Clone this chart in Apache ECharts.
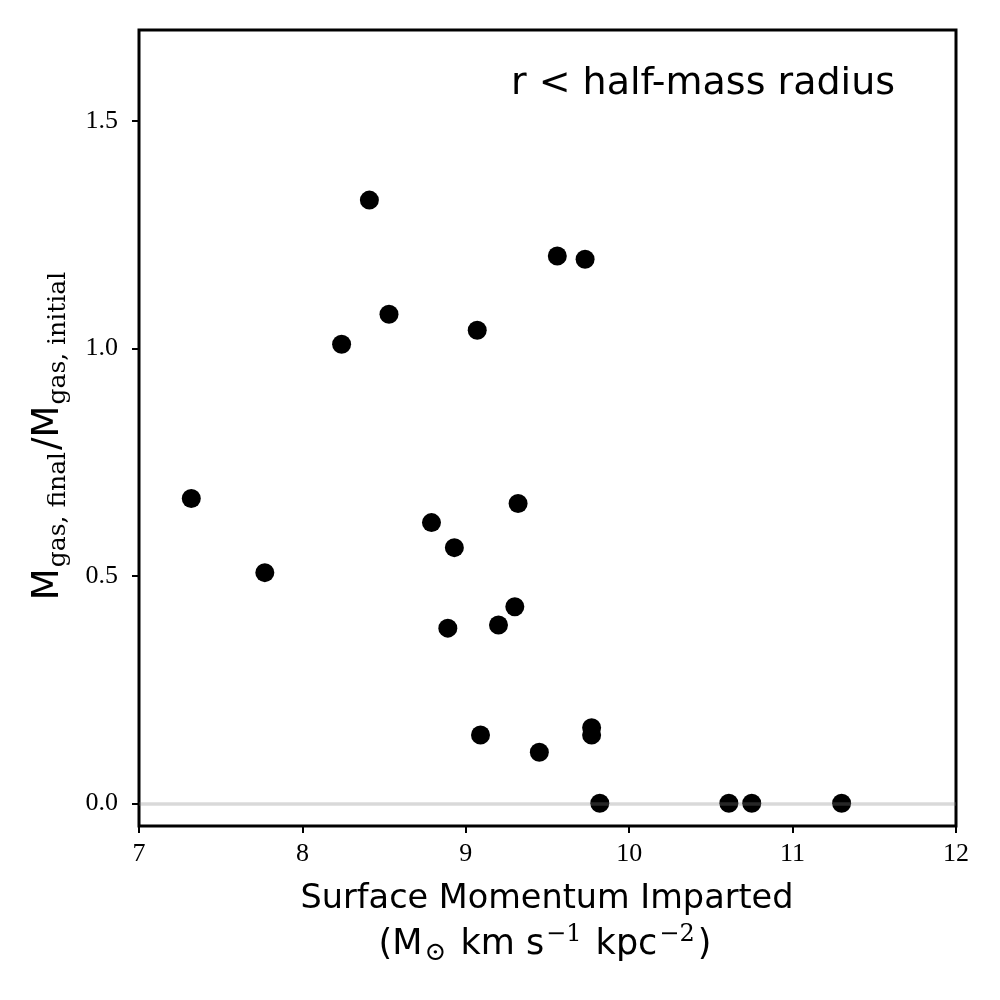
<!DOCTYPE html>
<html>
<head>
<meta charset="utf-8">
<script src="https://cdn.jsdelivr.net/npm/echarts@6/dist/echarts.min.js"></script>
<style>
  html, body { margin: 0; padding: 0; background: #fff; }
  #chart { width: 1000px; height: 1000px; }
</style>
</head>
<body>
<div id="chart"></div>
<script>
// surface momentum imparted (log10) and gas mass ratio inside half-mass radius
const momentum = [7.32, 7.77, 8.24, 8.41, 8.53, 8.79, 8.93, 8.89, 9.07, 9.32, 9.30, 9.20,
  9.09, 9.45, 9.56, 9.73, 9.77, 9.77, 9.82, 10.61, 10.75, 11.30]
const gasRatio = [0.670, 0.507, 1.009, 1.326, 1.075, 0.617, 0.562, 0.385, 1.040, 0.659, 0.432, 0.392,
  0.150, 0.112, 1.203, 1.196, 0.166, 0.150, 0.0, 0.0, 0.0, 0.0]
const yTicks = [0, 0.5, 1.0, 1.5]

const sans = '"DejaVu Sans", sans-serif'
const serif = '"DejaVu Serif", serif'
const tickFont = '"Liberation Serif", serif'

const chart = echarts.init(document.getElementById('chart'))

chart.setOption({
  animation: false,
  backgroundColor: '#fff',
  grid: {
    left: 139, right: 44, top: 30, bottom: 174,
    show: true, borderColor: '#000', borderWidth: 3
  },
  xAxis: {
    type: 'value', min: 7, max: 12, interval: 1,
    axisLine: { show: false, onZero: false },
    axisTick: { show: true, length: 7, lineStyle: { color: '#000', width: 2 } },
    axisLabel: { margin: 15, color: '#000', fontFamily: tickFont, fontSize: 26 },
    splitLine: { show: false }
  },
  yAxis: {
    type: 'value', min: -0.05, max: 1.7,
    axisLine: { show: false, onZero: false },
    axisTick: { show: true, length: 7, lineStyle: { color: '#000', width: 2 },
      customValues: yTicks },
    axisLabel: { margin: 21, customValues: yTicks, color: '#000',
      fontFamily: tickFont, fontSize: 26, formatter: v => v.toFixed(1) },
    splitLine: { show: false }
  },
  series: [{
    type: 'scatter',
    data: momentum.map((x, i) => [x, gasRatio[i]]),
    symbolSize: 19,
    itemStyle: { color: '#000', opacity: 1 },
    markLine: {
      silent: true, symbol: 'none', z: 10,
      label: { show: false },
      lineStyle: { color: 'rgba(128,128,128,0.3)', width: 3.5, type: 'solid' },
      data: [{ yAxis: 0 }]
    }
  }],
  graphic: [
    {
      type: 'text', x: 511, y: 84,
      style: { text: 'r < half-mass radius', fontFamily: sans, fontSize: 38, fill: '#000',
        verticalAlign: 'middle' }
    },
    {
      type: 'text', x: 547, y: 899,
      style: { text: 'Surface Momentum Imparted', fontFamily: sans, fontSize: 33.5, fill: '#000',
        align: 'center', verticalAlign: 'middle' }
    },
    {
      type: 'text', x: 545, y: 945,
      style: {
        text: '{m|(M}{sub|⊙}{m| km s}{sup|−1}{m| kpc}{sup|−2}{m|)}',
        align: 'center', verticalAlign: 'middle', fill: '#000',
        rich: {
          m: { fontFamily: sans, fontSize: 35, lineHeight: 40, verticalAlign: 'middle' },
          sub: { fontFamily: serif, fontSize: 26, padding: [16, 3, 0, 2], verticalAlign: 'middle' },
          sup: { fontFamily: serif, fontSize: 24, padding: [0, 3, 20, 2], verticalAlign: 'middle' }
        }
      }
    },
    {
      type: 'text', x: 48, y: 435, rotation: Math.PI / 2,
      style: {
        text: '{m|M}{s|gas, final}{m|/M}{s|gas, initial}',
        align: 'center', verticalAlign: 'middle', fill: '#000',
        rich: {
          m: { fontFamily: sans, fontSize: 37, lineHeight: 40, verticalAlign: 'middle' },
          s: { fontFamily: serif, fontSize: 25, padding: [20, 2, 0, 1], verticalAlign: 'middle' }
        }
      }
    }
  ]
})
</script>
</body>
</html>
